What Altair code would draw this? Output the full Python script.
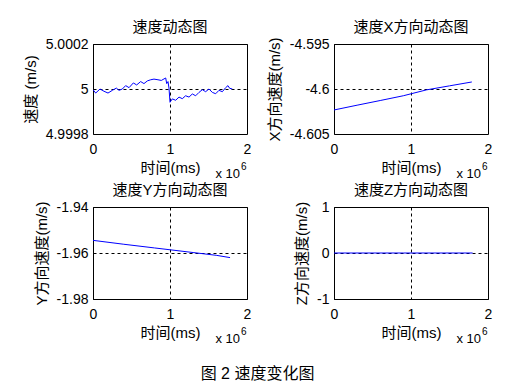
import altair as alt
import pandas as pd

FONT = "'Liberation Sans', Arial, 'Noto Sans CJK SC', sans-serif"

# time in units of 10^6 ms
t_speed = [0, 0.035, 0.091, 0.143, 0.195, 0.251, 0.303, 0.338, 0.381, 0.424,
           0.468, 0.524, 0.567, 0.619, 0.662, 0.706, 0.749, 0.792, 0.844, 0.887,
           0.944, 0.957, 0.974, 0.987, 1.0, 1.03, 1.074, 1.117, 1.160, 1.203,
           1.247, 1.290, 1.333, 1.377, 1.420, 1.463, 1.506, 1.550, 1.593, 1.636,
           1.680, 1.723, 1.753, 1.775, 1.81]
v_speed = [4.999997, 4.999982, 5.0, 4.99999, 4.999982, 4.999994, 5.000004, 4.999994, 5.0, 5.000015,
           5.000006, 5.000027, 5.000018, 5.000033, 5.000024, 5.000036, 5.000041, 5.000044, 5.000041, 5.000038,
           5.000049, 5.000024, 5.000033, 5.000004, 4.999941, 4.999956, 4.99995, 4.999964, 4.999957, 4.99997,
           4.999964, 4.999978, 4.99997, 4.999985, 4.999997, 4.999988, 5.0, 4.999985, 4.999979, 4.999994,
           4.999988, 5.000006, 5.000015, 5.000003, 5.0]

t_x = [0, 0.3, 0.6, 0.9, 1.2, 1.5, 1.79]
v_x = [-4.60233, -4.60180, -4.60128, -4.60075, -4.60010, -4.59965, -4.59922]

t_y = [0, 0.4, 0.8, 1.0, 1.3, 1.6, 1.78]
v_y = [-1.9545, -1.9562, -1.9578, -1.9586, -1.9598, -1.9610, -1.9620]

t_z = [0, 0.9, 1.8]
v_z = [0, 0, 0]

x_ticks = [0.0, 1.0, 2.0]
W = 154

LABEL_EXPR = "replace(format(datum.value, '~f'), '\u2212', '-')"


def panel(t, v, title, ytitle, ydom, yticks, h):
    df = pd.DataFrame({"t": t, "v": v})
    line = alt.Chart(df).mark_line(color="#0000ff", strokeWidth=1, clip=True).encode(
        x=alt.X("t:Q", scale=alt.Scale(domain=[0, 2], nice=False, zero=False),
                axis=alt.Axis(values=x_ticks, labelExpr=LABEL_EXPR, title="时间(ms)",
                              labelPadding=8, titlePadding=4,
                              labelFlush=False, labelOverlap=False,
                              grid=True, gridDash=[3, 3], gridColor="black")),
        y=alt.Y("v:Q", scale=alt.Scale(domain=ydom, nice=False, zero=False),
                axis=alt.Axis(values=yticks, labelExpr=LABEL_EXPR, title=ytitle,
                              labelPadding=5, titlePadding=7,
                              labelFlush=False, labelOverlap=False,
                              grid=True, gridDash=[3, 3], gridColor="black")),
    )
    one = alt.Chart(pd.DataFrame({"s": ["x 10"]}))
    note = one.mark_text(align="right", baseline="alphabetic", fontSize=13,
                         font=FONT, color="black").encode(
        x=alt.value(W - 7), y=alt.value(h + 44), text="s:N")
    sup = one.mark_text(align="left", baseline="alphabetic", fontSize=10,
                        font=FONT, color="black").encode(
        x=alt.value(W - 6), y=alt.value(h + 36), text=alt.value("6"))
    return alt.layer(line, note, sup).properties(
        width=W, height=h,
        title=alt.TitleParams(title, fontSize=15, fontWeight="normal", font=FONT,
                              color="black", offset=2))


p1 = panel(t_speed, v_speed, "速度动态图", "速度 (m/s)", [4.9998, 5.0002],
           [4.9998, 5.0, 5.0002], 90)
p2 = panel(t_x, v_x, "速度X方向动态图", "X方向速度(m/s)", [-4.605, -4.595],
           [-4.605, -4.6, -4.595], 90)
p3 = panel(t_y, v_y, "速度Y方向动态图", "Y方向速度(m/s)", [-1.98, -1.94],
           [-1.98, -1.96, -1.94], 92)
p4 = panel(t_z, v_z, "速度Z方向动态图", "Z方向速度(m/s)", [-1, 1],
           [-1, 0, 1], 92)

chart = alt.concat(p1, p2, p3, p4, columns=2,
                   spacing={"row": 0, "column": 14}).properties(
    padding={"left": 14, "top": 11, "right": 5, "bottom": 5},
    background="white",
    title=alt.TitleParams("图 2 速度变化图", orient="bottom", anchor="middle",
                          fontSize=16, fontWeight="normal", font=FONT,
                          color="black", offset=19),
).configure_view(stroke="black", strokeWidth=1).configure_axis(
    labelFont=FONT, labelFontSize=14, labelColor="black",
    titleFont=FONT, titleFontSize=15, titleFontWeight="normal", titleColor="black",
    gridOpacity=1, gridWidth=1,
    domain=False, ticks=False,
)

chart.save("out.html", embed_options={"renderer": "svg", "actions": False})
